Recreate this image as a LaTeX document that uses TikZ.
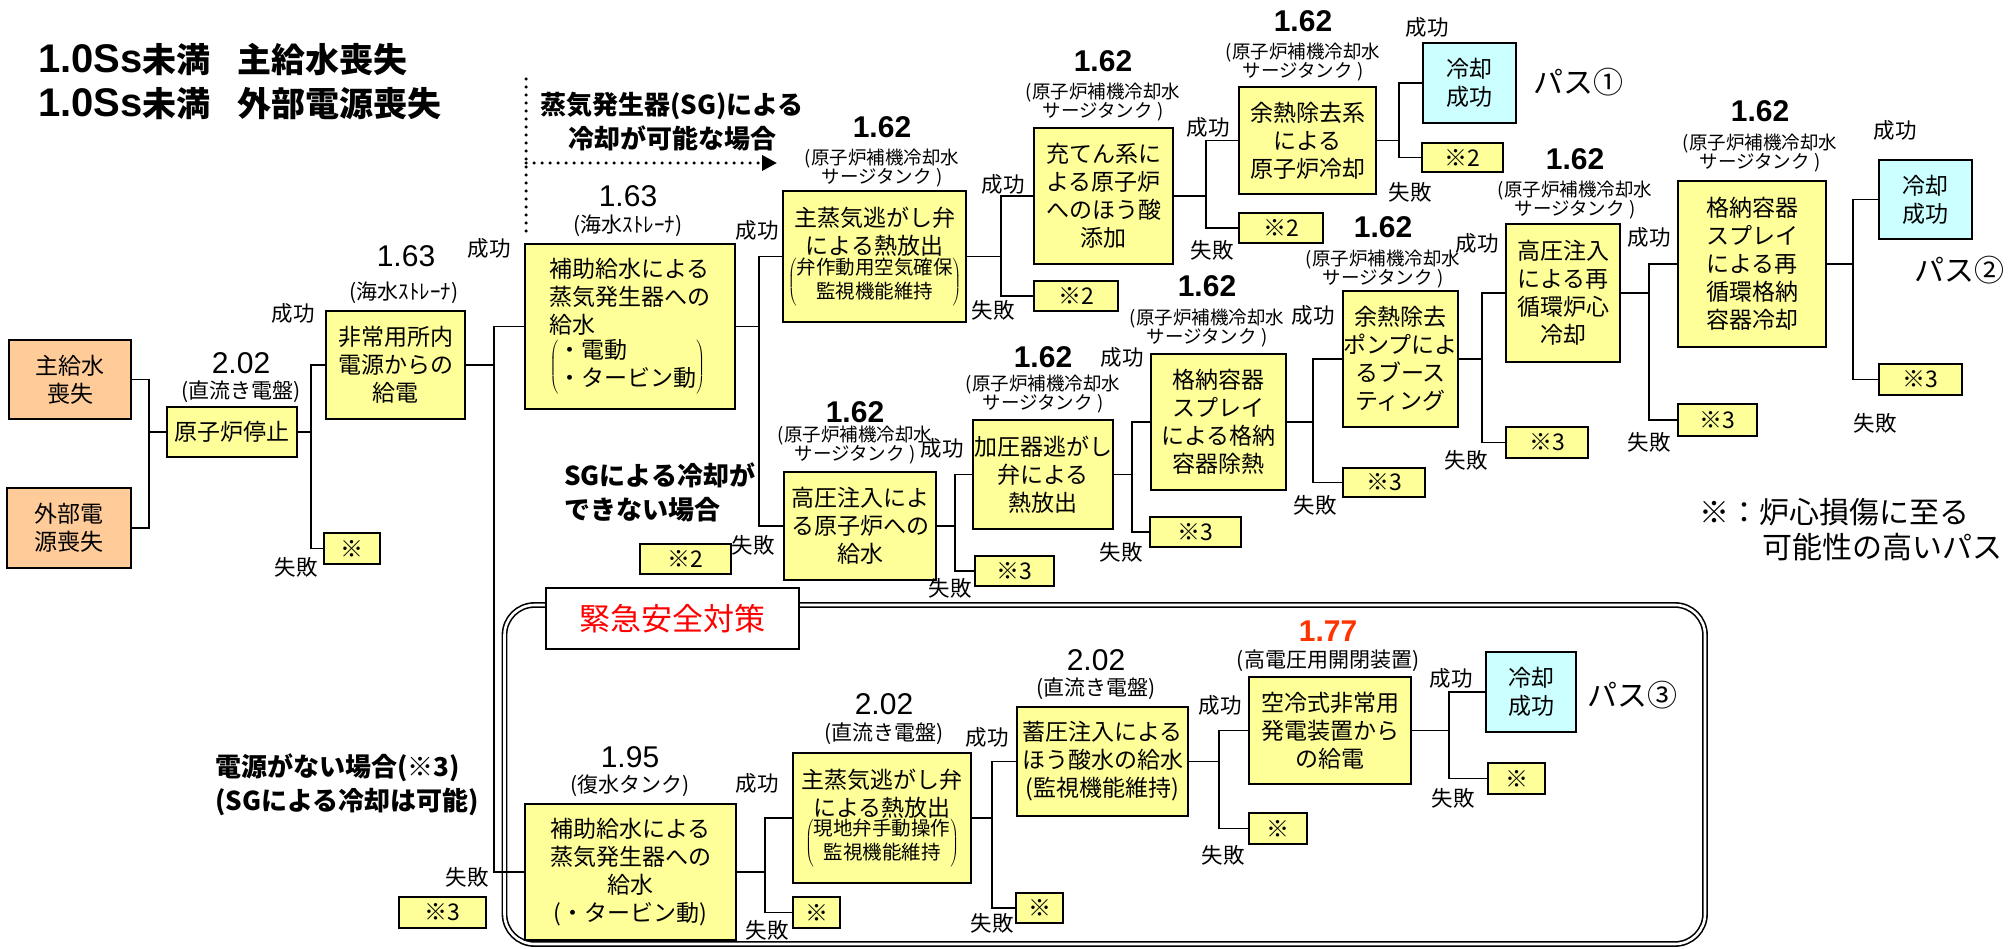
\documentclass[tikz,border=0pt]{standalone}
\usepackage{fontspec}
\setmainfont{Noto Sans CJK JP}
\newfontfamily\arialf{Liberation Sans}
\usetikzlibrary{arrows.meta}
\definecolor{byel}{HTML}{FFFF99}
\definecolor{bpeach}{HTML}{FFCC99}
\definecolor{bcyan}{HTML}{CCFFFF}
\definecolor{numred}{HTML}{FF3300}
\newcommand\fsBox{\fontsize{23}{28}\selectfont}
\newcommand\fsBr{\fontsize{19.5}{24}\selectfont}
\newcommand\fsSmall{\fontsize{18.5}{19.5}\selectfont}
\newcommand\fsCap{\fontsize{21}{24}\selectfont}
\newcommand\fsLab{\fontsize{21.5}{24}\selectfont}
\newcommand\fsNum{\fontsize{30}{32}\selectfont\arialf}
\newcommand\fsHead{\fontsize{26}{34}\selectfont\bfseries}
\newcommand\fsTitle{\fontsize{34}{44}\selectfont\bfseries}
\newcommand\fsTitleLat{\fontsize{40}{44}\selectfont\arialf\bfseries}
\newcommand\fsBig{\fontsize{30}{35}\selectfont}
\tikzset{
  box/.style={draw, line width=1.8pt, fill=byel, align=center, inner sep=0pt, font=\fsBox},
  initbox/.style={box, fill=bpeach},
  okbox/.style={box, fill=bcyan},
  conn/.style={line width=1.8pt},
  lab/.style={inner sep=0pt, font=\fsLab},
  numlab/.style={inner sep=0pt, font=\fsNum},
  numbold/.style={inner sep=0pt, font=\fsNum\bfseries},
  srccap/.style={inner sep=0pt, font=\fsCap},
  smallcap/.style={inner sep=0pt, font=\fsSmall, align=center},
  head/.style={inner sep=0pt, font=\fsHead},
  pathlab/.style={inner sep=0pt, font=\fsBig},
  dotline/.style={line width=3.5pt, line cap=round, dash pattern=on 0pt off 8pt},
}
\begin{document}
\begin{tikzpicture}[x=1pt,y=-1pt]
\useasboundingbox (0,0) rectangle (2011,949);
% emergency measures frame
\draw[line width=1.6pt, double, double distance=2.6pt, rounded corners=30pt] (504.5,605) rectangle (1705,944);
\node[draw, line width=1.8pt, fill=white, minimum width=253pt, minimum height=61pt, inner sep=0pt, text=red, font=\fontsize{31}{36}\selectfont] (emtitle) at (672.5,618.5) {緊急安全対策};

% junction coordinates
\coordinate (j0) at (149,0);
\coordinate (j1) at (311,0);
\coordinate (j2) at (494,0);
\coordinate (j3) at (759,0);
\coordinate (j4) at (1001,0);
\coordinate (j5) at (1206,0);
\coordinate (j6) at (1399,0);
\coordinate (j7) at (955,0);
\coordinate (j8) at (1132,0);
\coordinate (j9) at (1313,0);
\coordinate (j10) at (1482,0);
\coordinate (j11) at (1649,0);
\coordinate (j12) at (1853,0);
\coordinate (j13) at (765,0);
\coordinate (j14) at (992,0);
\coordinate (j15) at (1219,0);
\coordinate (j16) at (1449,0);

% titles and headings
\node[inner sep=0pt, font=\fsTitle, align=left, anchor=west] (title) at (38,82) {{\fsTitleLat 1.0Ss}未満\hspace{0.8em}主給水喪失\\{\fsTitleLat 1.0Ss}未満\hspace{0.8em}外部電源喪失};
\node[head, align=center] (sgok) at (672,121.5) {蒸気発生器(SG)による\\冷却が可能な場合};
\node[head, align=left, anchor=west] (sgng) at (564,492.5) {SGによる冷却が\\できない場合};
\node[head, align=left, anchor=west] (nopow) at (215,785) {電源がない場合(※3)\\(SGによる冷却は可能)};
\node[inner sep=0pt, font=\fsBig, align=left, anchor=west] (legend) at (1699,529.5) {※：炉心損傷に至る\\\hspace{2.1em}可能性の高いパス};

% dotted arrow
\coordinate (dtop) at (526,79);
\coordinate (dbot) at (526,235);
\coordinate (dcorner) at (526,163);
\coordinate (dtip) at (777,163);
\draw[dotline] (dtop) -- (dbot);
\draw[dotline, -{Triangle[length=15pt,width=15pt]}] (dcorner) -- (dtip);

% boxes: upper tree
\node[initbox, minimum width=122pt, minimum height=79pt] (mainfw) at (70,379.5) {主給水\\喪失};
\node[initbox, minimum width=124pt, minimum height=80pt] (offsite) at (69,528) {外部電\\源喪失};
\node[box, minimum width=130pt, minimum height=50pt] (trip) at (232,432) {原子炉停止};
\node[box, minimum width=139pt, minimum height=108pt] (epower) at (395.5,365) {非常用所内\\電源からの\\給電};
\node[box, minimum width=56pt, minimum height=31pt] (s1) at (352,548.5) {※};
\node[box, minimum width=210pt, minimum height=165pt, align=left] (afw) at (630,326.5) {補助給水による\\蒸気発生器への\\給水\\[2pt]$\left(\begin{tabular}{@{}l@{}}・電動\\・タービン動\end{tabular}\right)$};
\node[box, minimum width=183pt, minimum height=131pt] (msrv) at (874.5,256.5) {主蒸気逃がし弁\\による熱放出\\{\fsBr$\left(\begin{tabular}{@{}c@{}}弁作動用空気確保\\監視機能維持\end{tabular}\right)$}};
\node[box, minimum width=139pt, minimum height=136pt] (charging) at (1103.5,196) {充てん系に\\よる原子炉\\へのほう酸\\添加};
\node[box, minimum width=84pt, minimum height=30pt] (s2a) at (1076,296) {※2};
\node[box, minimum width=137pt, minimum height=107pt] (rhr) at (1307.5,140.5) {余熱除去系\\による\\原子炉冷却};
\node[box, minimum width=84pt, minimum height=30pt] (s2b) at (1281,228) {※2};
\node[okbox, minimum width=93pt, minimum height=80pt] (succ1) at (1469.5,83) {冷却\\成功};
\node[box, minimum width=81pt, minimum height=29pt] (s2c) at (1462.5,157.5) {※2};
\node[box, minimum width=152pt, minimum height=108pt] (hpi) at (860,526) {高圧注入によ\\る原子炉への\\給水};
\node[box, minimum width=91pt, minimum height=30pt] (s2d) at (685.5,559) {※2};
\node[box, minimum width=79pt, minimum height=30pt] (s3a) at (1014.5,571) {※3};
\node[box, minimum width=140pt, minimum height=109pt] (porv) at (1043,474.5) {加圧器逃がし\\弁による\\熱放出};
\node[box, minimum width=91pt, minimum height=30pt] (s3b) at (1195.5,532) {※3};
\node[box, minimum width=135pt, minimum height=136pt] (cvs) at (1218.5,422) {格納容器\\スプレイ\\による格納\\容器除熱};
\node[box, minimum width=82pt, minimum height=29pt] (s3c) at (1384,482.5) {※3};
\node[box, minimum width=115pt, minimum height=136pt] (rhrb) at (1400.5,359) {余熱除去\\ポンプによ\\るブース\\ティング};
\node[box, minimum width=82pt, minimum height=31pt] (s3d) at (1547,442.5) {※3};
\node[box, minimum width=114pt, minimum height=138pt] (hpr) at (1563,293) {高圧注入\\による再\\循環炉心\\冷却};
\node[box, minimum width=79pt, minimum height=32pt] (s3e) at (1717.5,420) {※3};
\node[box, minimum width=148pt, minimum height=166pt] (csr) at (1752,264) {格納容器\\スプレイ\\による再\\循環格納\\容器冷却};
\node[okbox, minimum width=93pt, minimum height=79pt] (succ2) at (1925.5,199.5) {冷却\\成功};
\node[box, minimum width=83pt, minimum height=31pt] (s3f) at (1920.5,379.5) {※3};

% boxes: emergency measures tree
\node[box, minimum width=211pt, minimum height=136pt] (lafw) at (630.5,872) {補助給水による\\蒸気発生器への\\給水\\(・タービン動)};
\node[box, minimum width=87pt, minimum height=31pt] (s3g) at (442.5,912.5) {※3};
\node[box, minimum width=178pt, minimum height=130pt] (msrv2) at (882,818) {主蒸気逃がし弁\\による熱放出\\{\fsBr$\left(\begin{tabular}{@{}c@{}}現地弁手動操作\\監視機能維持\end{tabular}\right)$}};
\node[box, minimum width=47pt, minimum height=31pt] (sx1) at (816.5,912.5) {※};
\node[box, minimum width=171pt, minimum height=109pt] (acc) at (1102.5,761.5) {蓄圧注入による\\ほう酸水の給水\\(監視機能維持)};
\node[box, minimum width=47pt, minimum height=30pt] (sx2) at (1039.5,908) {※};
\node[box, minimum width=162pt, minimum height=107pt] (aircool) at (1330,730.5) {空冷式非常用\\発電装置から\\の給電};
\node[box, minimum width=58pt, minimum height=31pt] (sx3) at (1278,828.5) {※};
\node[okbox, minimum width=90pt, minimum height=80pt] (succ3) at (1531,692) {冷却\\成功};
\node[box, minimum width=57pt, minimum height=31pt] (sx4) at (1516.5,778.5) {※};

% number and source captions
\node[numlab] (n_trip) at (241,363) {2.02};
\node[srccap] (c_trip) at (241,392) {(直流き電盤)};
\node[numlab] (n_ep) at (406,256) {1.63};
\node[srccap] (c_ep) at (404,293) {(海水ｽﾄﾚｰﾅ)};
\node[numlab] (n_afw) at (628,196) {1.63};
\node[srccap] (c_afw) at (628,226) {(海水ｽﾄﾚｰﾅ)};
\node[numbold] (n_msrv) at (882,127) {1.62};
\node[smallcap] (c_msrv) at (882,168) {(原子炉補機冷却水\\サージタンク )};
\node[numbold] (n_chg) at (1103,61) {1.62};
\node[smallcap] (c_chg) at (1103,102) {(原子炉補機冷却水\\サージタンク )};
\node[numbold] (n_rhr) at (1303,21) {1.62};
\node[smallcap] (c_rhr) at (1303,62) {(原子炉補機冷却水\\サージタンク )};
\node[numbold] (n_hpi) at (855,412) {1.62};
\node[smallcap] (c_hpi) at (855,445) {(原子炉補機冷却水\\サージタンク )};
\node[numbold] (n_porv) at (1043,357) {1.62};
\node[smallcap] (c_porv) at (1043,394) {(原子炉補機冷却水\\サージタンク )};
\node[numbold] (n_cvs) at (1207,286) {1.62};
\node[smallcap] (c_cvs) at (1207,328) {(原子炉補機冷却水\\サージタンク )};
\node[numbold] (n_rhrb) at (1383,227) {1.62};
\node[smallcap] (c_rhrb) at (1383,269) {(原子炉補機冷却水\\サージタンク )};
\node[numbold] (n_hpr) at (1575,159) {1.62};
\node[smallcap] (c_hpr) at (1575,200) {(原子炉補機冷却水\\サージタンク )};
\node[numbold] (n_csr) at (1760,111) {1.62};
\node[smallcap] (c_csr) at (1760,153) {(原子炉補機冷却水\\サージタンク )};
\node[numlab] (n_lafw) at (630,757) {1.95};
\node[srccap] (c_lafw) at (630,786) {(復水タンク)};
\node[numlab] (n_msrv2) at (884,704) {2.02};
\node[srccap] (c_msrv2) at (884,734) {(直流き電盤)};
\node[numlab] (n_acc) at (1096,660) {2.02};
\node[srccap] (c_acc) at (1096,689) {(直流き電盤)};
\node[numbold, text=numred] (n_air) at (1328,631) {1.77};
\node[srccap] (c_air) at (1328,661) {(高電圧用開閉装置)};

% path labels
\node[pathlab] (p1) at (1578,82) {パス①};
\node[pathlab] (p2) at (1959,270) {パス②};
\node[pathlab] (p3) at (1632,695) {パス③};

% success / failure labels
\node[lab] (ok1) at (293,313) {成功};
\node[lab] (ng1) at (296,567) {失敗};
\node[lab] (ok2) at (489,248) {成功};
\node[lab] (ng2) at (467,877) {失敗};
\node[lab] (ok3) at (757,230) {成功};
\node[lab] (ng3) at (753,545) {失敗};
\node[lab] (ok4) at (1003,184) {成功};
\node[lab] (ng4) at (993,310) {失敗};
\node[lab] (ok5) at (1208,127) {成功};
\node[lab] (ng5) at (1212,250) {失敗};
\node[lab] (ok6) at (1427,27) {成功};
\node[lab] (ng6) at (1410,192) {失敗};
\node[lab] (ok7) at (942,448) {成功};
\node[lab] (ng7) at (950,588) {失敗};
\node[lab] (ok8) at (1122,357) {成功};
\node[lab] (ng8) at (1121,552) {失敗};
\node[lab] (ok9) at (1313,315) {成功};
\node[lab] (ng9) at (1315,505) {失敗};
\node[lab] (ok10) at (1477,243) {成功};
\node[lab] (ng10) at (1466,460) {失敗};
\node[lab] (ok11) at (1649,237) {成功};
\node[lab] (ng11) at (1649,442) {失敗};
\node[lab] (ok12) at (1895,130) {成功};
\node[lab] (ng12) at (1875,423) {失敗};
\node[lab] (ok13) at (757,783) {成功};
\node[lab] (ng13) at (767,930) {失敗};
\node[lab] (ok14) at (987,737) {成功};
\node[lab] (ng14) at (992,923) {失敗};
\node[lab] (ok15) at (1220,705) {成功};
\node[lab] (ng15) at (1223,855) {失敗};
\node[lab] (ok16) at (1451,678) {成功};
\node[lab] (ng16) at (1453,798) {失敗};

% connectors
\draw[conn] (mainfw.east) -- (mainfw.east -| j0) |- (trip.west);
\draw[conn] (offsite.east) -- (offsite.east -| j0) |- (trip.west);
\draw[conn] (trip.east) -- (trip.east -| j1) |- (epower.west);
\draw[conn] (trip.east -| j1) |- (s1.west);
\draw[conn] (epower.east) -- (epower.east -| j2) |- (afw.west);
\draw[conn] (epower.east -| j2) |- (lafw.west);
\draw[conn] (afw.east) -- (afw.east -| j3) |- (msrv.west);
\draw[conn] (afw.east -| j3) |- (hpi.west);
\draw[conn] (msrv.east) -- (msrv.east -| j4) |- (charging.west);
\draw[conn] (msrv.east -| j4) |- (s2a.west);
\draw[conn] (charging.east) -- (charging.east -| j5) |- (rhr.west);
\draw[conn] (charging.east -| j5) |- (s2b.west);
\draw[conn] (rhr.east) -- (rhr.east -| j6) |- (succ1.west);
\draw[conn] (rhr.east -| j6) |- (s2c.west);
\draw[conn] (hpi.east) -- (hpi.east -| j7) |- (porv.west);
\draw[conn] (hpi.east -| j7) |- (s3a.west);
\draw[conn] (porv.east) -- (porv.east -| j8) |- (cvs.west);
\draw[conn] (porv.east -| j8) |- (s3b.west);
\draw[conn] (cvs.east) -- (cvs.east -| j9) |- (rhrb.west);
\draw[conn] (cvs.east -| j9) |- (s3c.west);
\draw[conn] (rhrb.east) -- (rhrb.east -| j10) |- (hpr.west);
\draw[conn] (rhrb.east -| j10) |- (s3d.west);
\draw[conn] (hpr.east) -- (hpr.east -| j11) |- (csr.west);
\draw[conn] (hpr.east -| j11) |- (s3e.west);
\draw[conn] (csr.east) -- (csr.east -| j12) |- (succ2.west);
\draw[conn] (csr.east -| j12) |- (s3f.west);
\draw[conn] (lafw.east) -- (lafw.east -| j13) |- (msrv2.west);
\draw[conn] (lafw.east -| j13) |- (sx1.west);
\draw[conn] (msrv2.east) -- (msrv2.east -| j14) |- (acc.west);
\draw[conn] (msrv2.east -| j14) |- (sx2.west);
\draw[conn] (acc.east) -- (acc.east -| j15) |- (aircool.west);
\draw[conn] (acc.east -| j15) |- (sx3.west);
\draw[conn] (aircool.east) -- (aircool.east -| j16) |- (succ3.west);
\draw[conn] (aircool.east -| j16) |- (sx4.west);
\end{tikzpicture}
\end{document}
